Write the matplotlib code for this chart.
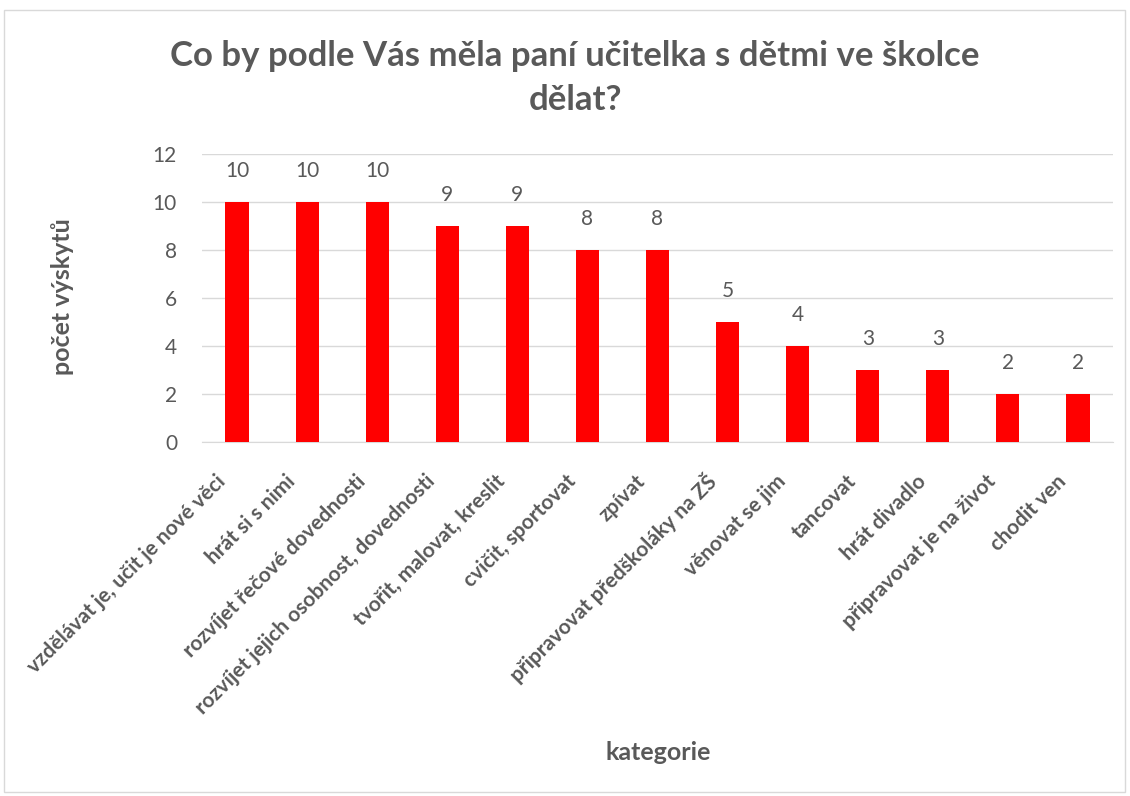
import matplotlib.pyplot as plt
import matplotlib.transforms as mtransforms
import numpy as np

categories = ['vzdělávat je, učit je nové věci', 'hrát si s nimi', 'rozvíjet řečové dovednosti',
              'rozvíjet jejich osobnost, dovednosti', 'tvořit, malovat, kreslit', 'cvičit, sportovat',
              'zpívat', 'připravovat předškoláky na ZŠ', 'věnovat se jim', 'tancovat',
              'hrát divadlo', 'připravovat je na život', 'chodit ven']
counts = [10, 10, 10, 9, 9, 8, 8, 5, 4, 3, 3, 2, 2]
yticks = [0, 2, 4, 6, 8, 10, 12]

plt.rcParams['font.family'] = ['Lato', 'DejaVu Sans']
gray = '#595959'

fig = plt.figure(figsize=(11.3, 7.96), dpi=100)
# chart border
fig.patches.append(plt.Rectangle((4 / 1130, 4 / 796), 1121 / 1130, 782 / 796,
                                 transform=fig.transFigure, fill=False,
                                 edgecolor='#d9d9d9', linewidth=1))

ax = fig.add_axes([202 / 1130, 1 - 442 / 796, 911 / 1130, 288 / 796])
x = np.arange(len(categories))
ax.bar(x, counts, width=0.33, color='#ff0000', zorder=3)
for xi, v in zip(x, counts):
    ax.annotate(str(v), (xi, v), xytext=(0, 15), textcoords='offset points',
                ha='center', va='bottom', fontsize=15, color=gray)

ax.set_xlim(-0.5, len(categories) - 0.5)
ax.set_ylim(0, 12)
ax.set_yticks(yticks)
ax.set_yticklabels([str(t) for t in yticks], fontsize=15, color=gray)
ax.yaxis.grid(True, color='#d9d9d9', linewidth=1, zorder=0)
ax.tick_params(axis='y', length=0, pad=18)
ax.tick_params(axis='x', length=0, pad=26)
ax.set_xticks(x)
ax.set_xticklabels(categories, rotation=45, ha='right', va='center', rotation_mode='anchor',
                   fontsize=15, fontweight='bold', color=gray)
shift = mtransforms.ScaledTranslation(-15 / 100, 0, fig.dpi_scale_trans)
for lab in ax.get_xticklabels():
    lab.set_transform(lab.get_transform() + shift)
for s in ['top', 'right', 'left']:
    ax.spines[s].set_visible(False)
ax.spines['bottom'].set_color('#d9d9d9')

fig.text(63 / 1130, 1 - 297 / 796, 'počet výskytů', fontsize=18, fontweight='bold',
         color=gray, ha='center', va='center', rotation=90)
fig.text(658 / 1130, 1 - 752 / 796, 'kategorie', fontsize=18, fontweight='bold',
         color=gray, ha='center', va='center')
fig.text(575 / 1130, 1 - 78 / 796, 'Co by podle Vás měla paní učitelka s dětmi ve školce\ndělat?',
         fontsize=25, fontweight='bold', color=gray, ha='center', va='center', linespacing=1.45)

fig.savefig('out.png', dpi=100)
